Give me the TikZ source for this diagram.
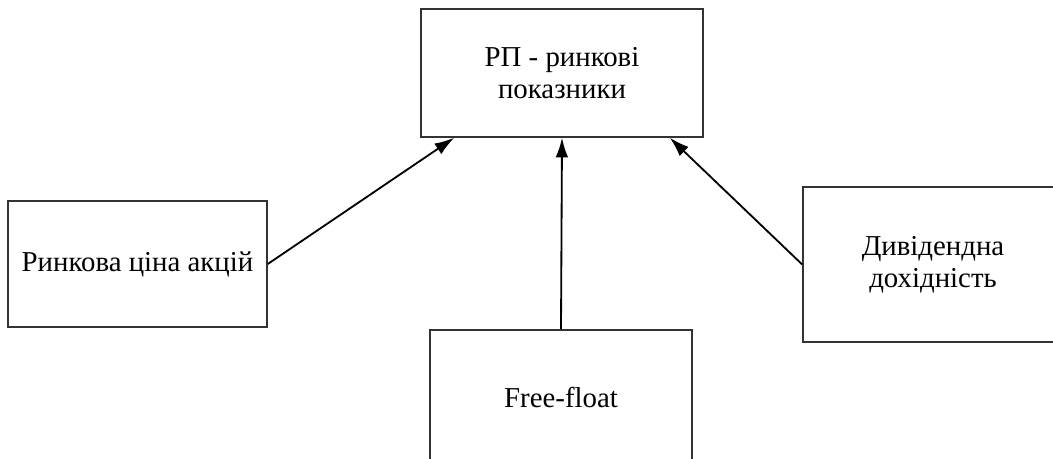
\documentclass[tikz,border=0pt]{standalone}
\usepackage{fontspec}
\setmainfont{Liberation Serif}
\usetikzlibrary{arrows.meta}

\begin{document}
\begin{tikzpicture}[x=0.025cm,y=-0.025cm,
    box/.style={draw=black!80,line width=1.1pt,align=center,inner sep=0pt,
      font=\fontsize{20.5}{23}\selectfont},
    arr/.style={-{Latex[length=14pt,width=9pt]},line width=1.3pt}]
            \useasboundingbox (0,0) rectangle (1053,459);
            \clip (0,0) rectangle (1053,459);
            \node[box,minimum width=282*0.025cm,minimum height=128*0.025cm] (rp) at (562,73) {РП - ринкові\\показники};
            \node[box,minimum width=259*0.025cm,minimum height=126*0.025cm] (price) at (137.5,264) {Ринкова ціна акцій};
            \node[box,minimum width=262*0.025cm,minimum height=134*0.025cm] (ff) at (561,397) {Free-float};
            \node[box,minimum width=260*0.025cm,minimum height=155*0.025cm] (div) at (933,264.5) {Дивідендна\\дохідність};
            \draw[arr] (price.east)--(rp.-149);
            \draw[arr] (ff.north)--(rp.south);
            \draw[arr] (div.west)--(rp.-31);
        \end{tikzpicture}
\end{document}
